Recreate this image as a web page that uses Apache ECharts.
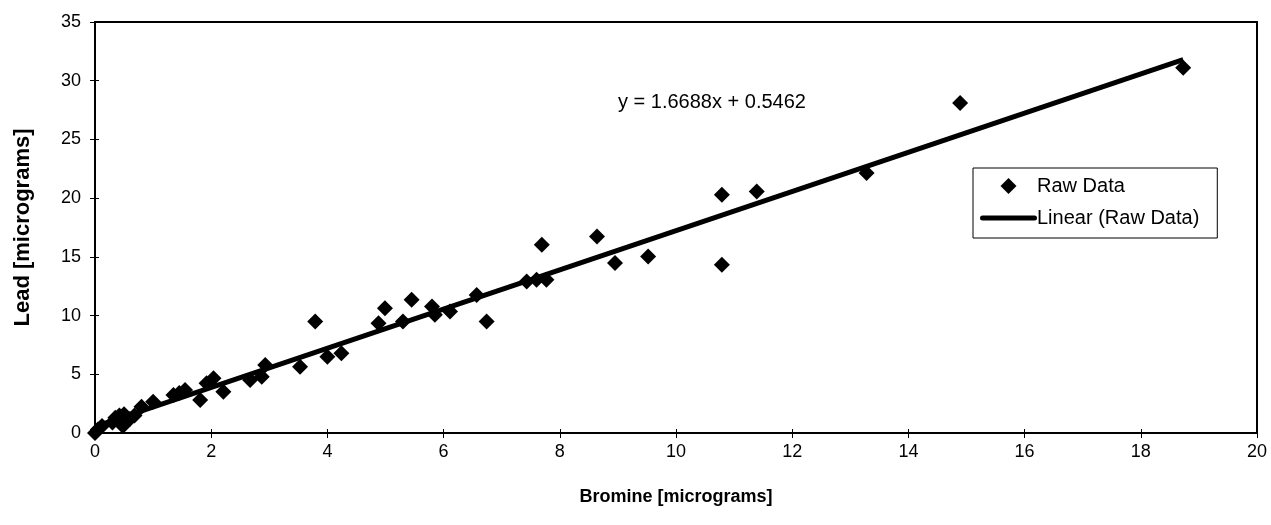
<!DOCTYPE html>
<html>
<head>
<meta charset="utf-8">
<script src="https://cdn.jsdelivr.net/npm/echarts@6/dist/echarts.min.js"></script>
<style>
html,body{margin:0;padding:0;background:#fff;}
#chart{width:1271px;height:525px;}
</style>
</head>
<body>
<div id="chart"></div>
<script>
// ---- data ----
var bromine = [0, 0.05, 0.12, 0.3, 0.35, 0.42, 0.48, 0.5, 0.6, 0.68, 0.8, 1.0, 1.35, 1.45, 1.55, 1.81, 1.92, 2.04, 2.21, 2.67, 2.87, 2.93, 3.53, 3.79, 4.0, 4.24, 4.88, 4.99, 5.3, 5.45, 5.8, 5.85, 6.11, 6.57, 6.74, 7.43, 7.6, 7.69, 7.77, 8.64, 8.95, 9.52, 10.79, 10.79, 11.39, 13.28, 14.89, 18.73];
var lead    = [0, 0.3, 0.6, 0.9, 1.3, 1.5, 0.6, 1.6, 1.2, 1.5, 2.24, 2.67, 3.24, 3.4, 3.67, 2.81, 4.24, 4.66, 3.52, 4.52, 4.8, 5.8, 5.65, 9.49, 6.5, 6.79, 9.35, 10.63, 9.49, 11.34, 10.77, 10.06, 10.34, 11.76, 9.49, 12.9, 13.04, 16.03, 13.04, 16.73, 14.47, 15.03, 20.29, 14.32, 20.57, 22.14, 28.1, 31.1];
var trendSlope = 1.6688;
var trendIntercept = 0.5462;
var trendX = [0, 18.73];
var equationText = 'y = 1.6688x + 0.5462';
var xTitle = 'Bromine [micrograms]';
var yTitle = 'Lead [micrograms]';
var seriesNames = ['Raw Data', 'Linear (Raw Data)'];

var points = bromine.map(function (b, i) { return [b, lead[i]]; });
var trend = trendX.map(function (x) { return [x, trendSlope * x + trendIntercept]; });

var FONT = '"Liberation Sans", Arial, sans-serif';
var chart = echarts.init(document.getElementById('chart'), null, {renderer: 'canvas'});
var option = {
  backgroundColor: '#fff',
  animation: false,
  textStyle: {fontFamily: FONT, color: '#000'},
  grid: {left: 95, right: 14, top: 22, bottom: 92, show: true, borderColor: '#000', borderWidth: 2, backgroundColor: 'transparent'},
  legend: {
    orient: 'vertical', left: 973, top: 168,
    backgroundColor: '#fff',
    borderColor: '#000', borderWidth: 1,
    padding: [8, 18, 10, 7],
    itemWidth: 57, itemHeight: 16, itemGap: 12,
    textStyle: {fontFamily: FONT, fontSize: 20, color: '#000', padding: [0, 0, 0, -5]},
    data: [
      {name: seriesNames[0], icon: 'path://M0,0 M57,16 M28.5,0 L36.5,8 L28.5,16 L20.5,8 Z', itemStyle: {color: '#000', opacity: 1}},
      {name: seriesNames[1], icon: 'path://M0,0 M57,16 M2.5,5.5 L54.5,5.5 A2.5,2.5 0 0 1 54.5,10.5 L2.5,10.5 A2.5,2.5 0 0 1 2.5,5.5 Z', itemStyle: {color: '#000'}}
    ]
  },
  xAxis: [{
    type: 'value', min: 0, max: 20, interval: 2,
    name: xTitle, nameLocation: 'middle', nameGap: 55,
    nameTextStyle: {fontFamily: FONT, fontSize: 18, fontWeight: 'bold', color: '#000'},
    axisLine: {show: true, onZero: false, lineStyle: {color: '#000', width: 2}},
    axisTick: {show: true, inside: false, length: 5, lineStyle: {color: '#000', width: 1}},
    axisLabel: {fontFamily: FONT, fontSize: 18, color: '#000', margin: 10},
    splitLine: {show: false}
  }, {
    type: 'value', min: 0, max: 20, interval: 2, position: 'bottom',
    axisLine: {show: false},
    axisTick: {show: true, inside: true, length: 4, lineStyle: {color: '#000', width: 1}},
    axisLabel: {show: false}, splitLine: {show: false}
  }],
  yAxis: [{
    type: 'value', min: 0, max: 35, interval: 5,
    name: yTitle, nameLocation: 'middle', nameGap: 61, nameRotate: 90,
    nameTextStyle: {fontFamily: FONT, fontSize: 22, fontWeight: 'bold', color: '#000'},
    axisLine: {show: true, onZero: false, lineStyle: {color: '#000', width: 2}},
    axisTick: {show: true, inside: false, length: 5, lineStyle: {color: '#000', width: 1}},
    axisLabel: {fontFamily: FONT, fontSize: 18, color: '#000', margin: 14},
    splitLine: {show: false}
  }, {
    type: 'value', min: 0, max: 35, interval: 5, position: 'left',
    axisLine: {show: false},
    axisTick: {show: true, inside: true, length: 4, lineStyle: {color: '#000', width: 1}},
    axisLabel: {show: false}, splitLine: {show: false}
  }],
  series: [{
    name: seriesNames[0], type: 'scatter', symbol: 'diamond', symbolSize: 16,
    itemStyle: {color: '#000', opacity: 1}, data: points, z: 3
  }, {
    name: seriesNames[1], type: 'line', data: trend, showSymbol: false, symbol: 'none',
    lineStyle: {color: '#000', width: 5}, itemStyle: {color: '#000'}, z: 2
  }],
  graphic: [{
    type: 'text', left: 618, top: 92, z: 10,
    style: {text: equationText, font: '20px ' + FONT, fill: '#000'}
  }]
};
chart.setOption(option);
</script>
</body>
</html>
